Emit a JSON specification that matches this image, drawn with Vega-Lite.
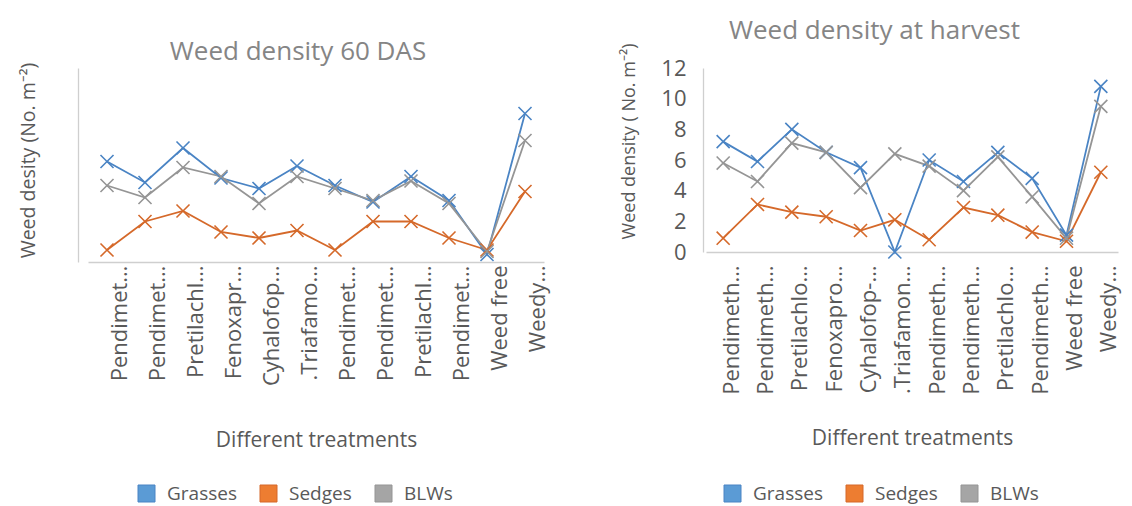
{
  "$schema": "https://vega.github.io/schema/vega-lite/v6.json",
  "padding": {"left": 17, "top": 17, "right": 0, "bottom": 0},
  "config": {
    "font": "Open Sans",
    "view": {"stroke": null},
    "axis": {"domainColor": "#cfcfcf", "domainWidth": 1.3, "ticks": false, "grid": false, "labelColor": "#595959", "titleColor": "#595959", "labelFont": "Open Sans", "titleFont": "Open Sans", "titleFontWeight": "normal", "labelFontSize": 22, "titleFontSize": 20},
    "legend": {"orient": "none", "direction": "horizontal", "title": null, "labelFont": "Open Sans", "labelFontSize": 19, "labelColor": "#595959", "symbolType": "square", "symbolSize": 289, "symbolStrokeWidth": 1, "columnPadding": 21, "labelOffset": 11},
    "title": {"fontSize": 26, "fontWeight": "normal", "color": "#858585", "font": "Open Sans", "anchor": "middle", "frame": "bounds"}
  },
  "datasets": {
    "das60": [
      {"t": 1, "series": "Grasses", "v": 6.7}, {"t": 2, "series": "Grasses", "v": 5.3}, {"t": 3, "series": "Grasses", "v": 7.6}, {"t": 4, "series": "Grasses", "v": 5.6}, {"t": 5, "series": "Grasses", "v": 4.9}, {"t": 6, "series": "Grasses", "v": 6.4}, {"t": 7, "series": "Grasses", "v": 5.1}, {"t": 8, "series": "Grasses", "v": 4.0}, {"t": 9, "series": "Grasses", "v": 5.7}, {"t": 10, "series": "Grasses", "v": 4.1}, {"t": 11, "series": "Grasses", "v": 0.5}, {"t": 12, "series": "Grasses", "v": 9.9},
      {"t": 1, "series": "Sedges", "v": 0.8}, {"t": 2, "series": "Sedges", "v": 2.7}, {"t": 3, "series": "Sedges", "v": 3.4}, {"t": 4, "series": "Sedges", "v": 2.0}, {"t": 5, "series": "Sedges", "v": 1.6}, {"t": 6, "series": "Sedges", "v": 2.1}, {"t": 7, "series": "Sedges", "v": 0.8}, {"t": 8, "series": "Sedges", "v": 2.7}, {"t": 9, "series": "Sedges", "v": 2.7}, {"t": 10, "series": "Sedges", "v": 1.6}, {"t": 11, "series": "Sedges", "v": 0.8}, {"t": 12, "series": "Sedges", "v": 4.7},
      {"t": 1, "series": "BLWs", "v": 5.1}, {"t": 2, "series": "BLWs", "v": 4.3}, {"t": 3, "series": "BLWs", "v": 6.3}, {"t": 4, "series": "BLWs", "v": 5.7}, {"t": 5, "series": "BLWs", "v": 3.9}, {"t": 6, "series": "BLWs", "v": 5.7}, {"t": 7, "series": "BLWs", "v": 4.9}, {"t": 8, "series": "BLWs", "v": 4.1}, {"t": 9, "series": "BLWs", "v": 5.4}, {"t": 10, "series": "BLWs", "v": 3.9}, {"t": 11, "series": "BLWs", "v": 0.7}, {"t": 12, "series": "BLWs", "v": 8.1}
    ],
    "harvest": [
      {"t": 1, "series": "Grasses", "v": 7.2}, {"t": 2, "series": "Grasses", "v": 5.9}, {"t": 3, "series": "Grasses", "v": 8.0}, {"t": 4, "series": "Grasses", "v": 6.5}, {"t": 5, "series": "Grasses", "v": 5.5}, {"t": 6, "series": "Grasses", "v": 0.0}, {"t": 7, "series": "Grasses", "v": 6.0}, {"t": 8, "series": "Grasses", "v": 4.6}, {"t": 9, "series": "Grasses", "v": 6.5}, {"t": 10, "series": "Grasses", "v": 4.8}, {"t": 11, "series": "Grasses", "v": 1.1}, {"t": 12, "series": "Grasses", "v": 10.8},
      {"t": 1, "series": "Sedges", "v": 0.9}, {"t": 2, "series": "Sedges", "v": 3.1}, {"t": 3, "series": "Sedges", "v": 2.6}, {"t": 4, "series": "Sedges", "v": 2.3}, {"t": 5, "series": "Sedges", "v": 1.4}, {"t": 6, "series": "Sedges", "v": 2.1}, {"t": 7, "series": "Sedges", "v": 0.8}, {"t": 8, "series": "Sedges", "v": 2.9}, {"t": 9, "series": "Sedges", "v": 2.4}, {"t": 10, "series": "Sedges", "v": 1.3}, {"t": 11, "series": "Sedges", "v": 0.7}, {"t": 12, "series": "Sedges", "v": 5.2},
      {"t": 1, "series": "BLWs", "v": 5.8}, {"t": 2, "series": "BLWs", "v": 4.6}, {"t": 3, "series": "BLWs", "v": 7.1}, {"t": 4, "series": "BLWs", "v": 6.5}, {"t": 5, "series": "BLWs", "v": 4.2}, {"t": 6, "series": "BLWs", "v": 6.4}, {"t": 7, "series": "BLWs", "v": 5.6}, {"t": 8, "series": "BLWs", "v": 4.0}, {"t": 9, "series": "BLWs", "v": 6.2}, {"t": 10, "series": "BLWs", "v": 3.6}, {"t": 11, "series": "BLWs", "v": 0.9}, {"t": 12, "series": "BLWs", "v": 9.5}
    ]
  },
  "resolve": {"scale": {"x": "independent", "y": "independent", "fill": "independent", "stroke": "independent"}, "legend": {"fill": "independent", "stroke": "independent"}},
  "spacing": 42,
  "hconcat": [
    {
      "width": 500,
      "height": 194,
      "title": {"text": "Weed density 60 DAS", "offset": -3},
      "data": {"name": "das60"},
      "encoding": {
        "x": {"field": "t", "type": "ordinal", "scale": {"type": "point", "range": [10, 466]},
          "axis": {"title": "Different treatments", "titleFontSize": 21, "labelAngle": -90, "labelOffset": 12, "labelPadding": 3, "titleY": 167,
            "labelExpr": "['Pendimet…','Pendimet…','Pretilachl…','Fenoxapr…','Cyhalofop…','.Triafamo…','Pendimet…','Pendimet…','Pretilachl…','Pendimet…','Weed free','Weedy…'][datum.value - 1]"}},
        "y": {"field": "v", "type": "quantitative", "scale": {"domain": [0, 12.933], "nice": false},
          "axis": {"title": "Weed desity (No. m⁻²)", "titleFontSize": 19.5, "labels": false, "titleX": -40, "titleY": 92}}
      },
      "layer": [
        {"mark": {"type": "line", "strokeWidth": 1.8},
          "encoding": {"stroke": {"field": "series", "type": "nominal", "scale": {"domain": ["Grasses", "Sedges", "BLWs"], "range": ["#4A84C4", "#D5692A", "#959595"]}, "legend": {"symbolType": "square", "legendX": 59, "legendY": 416}}}},
        {"mark": {"type": "point", "shape": "M-1,-1L1,1M1,-1L-1,1", "filled": true, "size": 170, "strokeWidth": 1.6, "opacity": 1},
          "encoding": {
            "stroke": {"field": "series", "type": "nominal", "scale": {"domain": ["Grasses", "Sedges", "BLWs"], "range": ["#4A84C4", "#D5692A", "#959595"]}, "legend": {"symbolType": "square", "legendX": 59, "legendY": 416}},
            "fill": {"field": "series", "type": "nominal", "scale": {"domain": ["Grasses", "Sedges", "BLWs"], "range": ["#5B9BD5", "#ED7D31", "#A5A5A5"]}, "legend": {"symbolType": "square", "legendX": 59, "legendY": 416}}}}
      ]
    },
    {
      "width": 426,
      "height": 184,
      "title": {"text": "Weed density at harvest", "offset": -0.5},
      "data": {"name": "harvest"},
      "encoding": {
        "x": {"field": "t", "type": "ordinal", "scale": {"type": "point", "range": [3, 415]},
          "axis": {"title": "Different treatments", "titleFontSize": 21, "labelAngle": -90, "labelOffset": 8, "labelPadding": 13, "titleY": 175,
            "labelExpr": "['Pendimeth…','Pendimeth…','Pretilachlo…','Fenoxapro…','Cyhalofop-…','.Triafamon…','Pendimeth…','Pendimeth…','Pretilachlo…','Pendimeth…','Weed free','Weedy…'][datum.value - 1]"}},
        "y": {"field": "v", "type": "quantitative", "scale": {"domain": [0, 12]},
          "axis": {"title": "Weed density ( No. m⁻²)", "titleFontSize": 18, "values": [0, 2, 4, 6, 8, 10, 12], "labelPadding": 17, "titleX": -65, "titleY": 73}}
      },
      "layer": [
        {"mark": {"type": "line", "strokeWidth": 1.8},
          "encoding": {"stroke": {"field": "series", "type": "nominal", "scale": {"domain": ["Grasses", "Sedges", "BLWs"], "range": ["#4A84C4", "#D5692A", "#959595"]}, "legend": {"symbolType": "square", "legendX": 20, "legendY": 416}}}},
        {"mark": {"type": "point", "shape": "M-1,-1L1,1M1,-1L-1,1", "filled": true, "size": 170, "strokeWidth": 1.6, "opacity": 1},
          "encoding": {
            "stroke": {"field": "series", "type": "nominal", "scale": {"domain": ["Grasses", "Sedges", "BLWs"], "range": ["#4A84C4", "#D5692A", "#959595"]}, "legend": {"symbolType": "square", "legendX": 20, "legendY": 416}},
            "fill": {"field": "series", "type": "nominal", "scale": {"domain": ["Grasses", "Sedges", "BLWs"], "range": ["#5B9BD5", "#ED7D31", "#A5A5A5"]}, "legend": {"symbolType": "square", "legendX": 20, "legendY": 416}}}}
      ]
    }
  ]
}
